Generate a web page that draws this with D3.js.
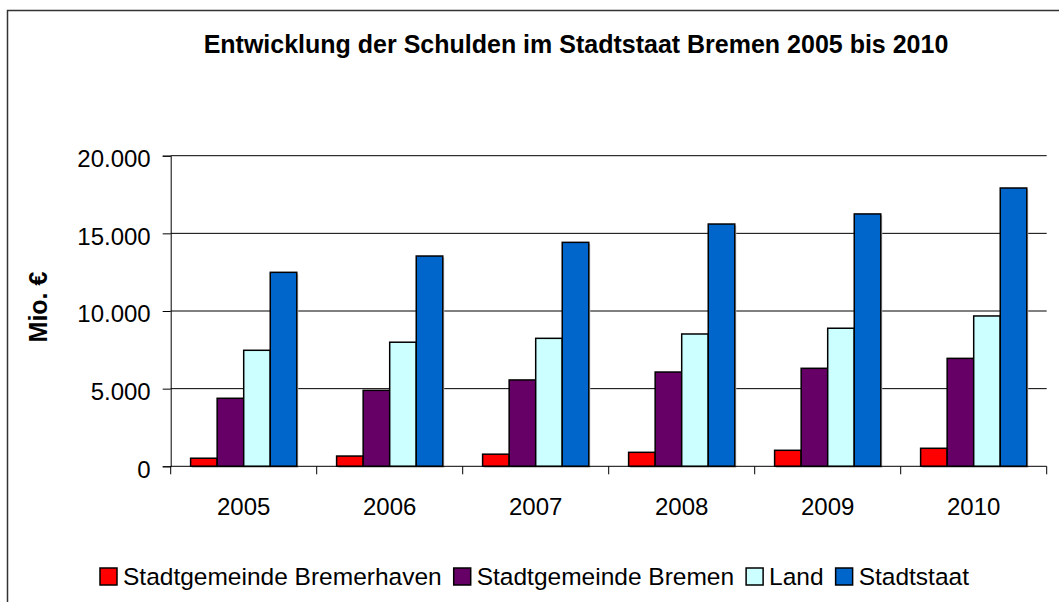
<!DOCTYPE html>
<html>
<head>
<meta charset="utf-8">
<title>Entwicklung der Schulden im Stadtstaat Bremen</title>
<script src="https://cdn.jsdelivr.net/npm/d3@7"></script>
<style>
  body { margin: 0; background: #fff; }
  svg { display: block; font-family: "Liberation Sans", Arial, sans-serif; }
  .title { font-size: 25px; font-weight: bold; }
  .axis-label { font-size: 25px; font-weight: bold; }
  .tick text { font-size: 24px; fill: #000; }
  .legend text { font-size: 24.5px; }
</style>
</head>
<body>
<svg id="chart" width="1059" height="602"></svg>
<script>
// data (Mio. €)
const years = ['2005', '2006', '2007', '2008', '2009', '2010'];
const seriesNames = ['Stadtgemeinde Bremerhaven', 'Stadtgemeinde Bremen', 'Land', 'Stadtstaat'];
const bremerhaven = [520, 660, 780, 900, 1030, 1160];
const bremen = [4380, 4890, 5560, 6070, 6310, 6950];
const land = [7470, 7990, 8240, 8520, 8890, 9680];
const stadtstaat = [12490, 13540, 14420, 15600, 16250, 17920];
const yTicks = [0, 5000, 10000, 15000, 20000];
const colors = ['#ff0000', '#660066', '#ccffff', '#0066cc'];

const seriesValues = [bremerhaven, bremen, land, stadtstaat];
const rows = years.map((y, i) => ({
  year: y,
  values: seriesNames.map((s, j) => ({ key: s, value: seriesValues[j][i] }))
}));

const svg = d3.select('#chart');
const width = 1059, height = 602;
const plot = { left: 170.7, right: 1046.7, top: 155.7, bottom: 466.3 };

// outer chart frame (runs past the right and bottom edge)
svg.append('rect')
  .attr('x', 7.5).attr('y', 10.5)
  .attr('width', width + 20).attr('height', height + 20)
  .attr('fill', '#fff').attr('stroke', '#333').attr('stroke-width', 1.5);

svg.append('text')
  .attr('class', 'title')
  .attr('x', 576).attr('y', 53)
  .attr('text-anchor', 'middle')
  .text('Entwicklung der Schulden im Stadtstaat Bremen 2005 bis 2010');

const x0 = d3.scaleBand().domain(years).range([plot.left, plot.right]);
const x1 = d3.scaleBand().domain(seriesNames).range([0, x0.bandwidth()]).paddingOuter(0.75);
const y = d3.scaleLinear().domain([0, 20000]).range([plot.bottom, plot.top]);

const de = d3.formatLocale({ decimal: ',', thousands: '.', grouping: [3], currency: ['', ' €'] });
const fmt = de.format(',');

// gridlines
svg.append('g').selectAll('line')
  .data(yTicks.filter(d => d > 0))
  .enter().append('line')
  .attr('x1', plot.left).attr('x2', plot.right)
  .attr('y1', d => y(d)).attr('y2', d => y(d))
  .attr('stroke', '#000').attr('stroke-width', 1);

// y axis
const yAxis = svg.append('g')
  .attr('transform', `translate(${plot.left},0)`)
  .call(d3.axisLeft(y).tickValues(yTicks).tickFormat(fmt).tickSize(8).tickPadding(12));
yAxis.select('.domain').attr('stroke', '#000');
yAxis.selectAll('.tick text').attr('dy', '0.45em');

svg.append('text')
  .attr('class', 'axis-label')
  .attr('transform', 'translate(47,307) rotate(-90)')
  .attr('text-anchor', 'middle')
  .text('Mio. €');

// bars
const groups = svg.append('g').selectAll('g')
  .data(rows)
  .enter().append('g')
  .attr('transform', d => `translate(${x0(d.year)},0)`);

groups.selectAll('rect.shadow')
  .data(d => d.values)
  .enter().append('rect')
  .attr('class', 'shadow')
  .attr('x', d => x1(d.key) + 1.5)
  .attr('y', d => y(d.value) + 1.5)
  .attr('width', x1.bandwidth())
  .attr('height', d => y(0) - y(d.value))
  .attr('fill', '#c8c8c8');

groups.selectAll('rect.bar')
  .data(d => d.values)
  .enter().append('rect')
  .attr('class', 'bar')
  .attr('x', d => x1(d.key))
  .attr('y', d => y(d.value))
  .attr('width', x1.bandwidth())
  .attr('height', d => y(0) - y(d.value))
  .attr('fill', (d, i) => colors[i])
  .attr('stroke', '#000')
  .attr('stroke-width', 1.5);

// x axis: ticks between categories, labels centred
const xg = svg.append('g');
xg.append('line')
  .attr('x1', plot.left).attr('x2', plot.right)
  .attr('y1', y(0)).attr('y2', y(0))
  .attr('stroke', '#000');
xg.selectAll('line.tick')
  .data(years.map(d => x0(d)).concat([plot.right]))
  .enter().append('line')
  .attr('class', 'tick')
  .attr('x1', d => d).attr('x2', d => d)
  .attr('y1', y(0)).attr('y2', y(0) + 8)
  .attr('stroke', '#000');
xg.selectAll('text')
  .data(years)
  .enter().append('text')
  .attr('x', d => x0(d) + x0.bandwidth() / 2)
  .attr('y', y(0) + 48.7)
  .attr('text-anchor', 'middle')
  .style('font-size', '24px')
  .text(d => d);

// legend
const legend = svg.append('g').attr('class', 'legend');
let lx = 100;
seriesNames.forEach((name, i) => {
  legend.append('rect')
    .attr('x', lx).attr('y', 568)
    .attr('width', 17).attr('height', 17)
    .attr('fill', colors[i]).attr('stroke', '#000').attr('stroke-width', 1.5);
  const t = legend.append('text')
    .attr('x', lx + 23).attr('y', 585)
    .text(name);
  lx += 23 + t.node().getComputedTextLength() + 12;
});
</script>
</body>
</html>
